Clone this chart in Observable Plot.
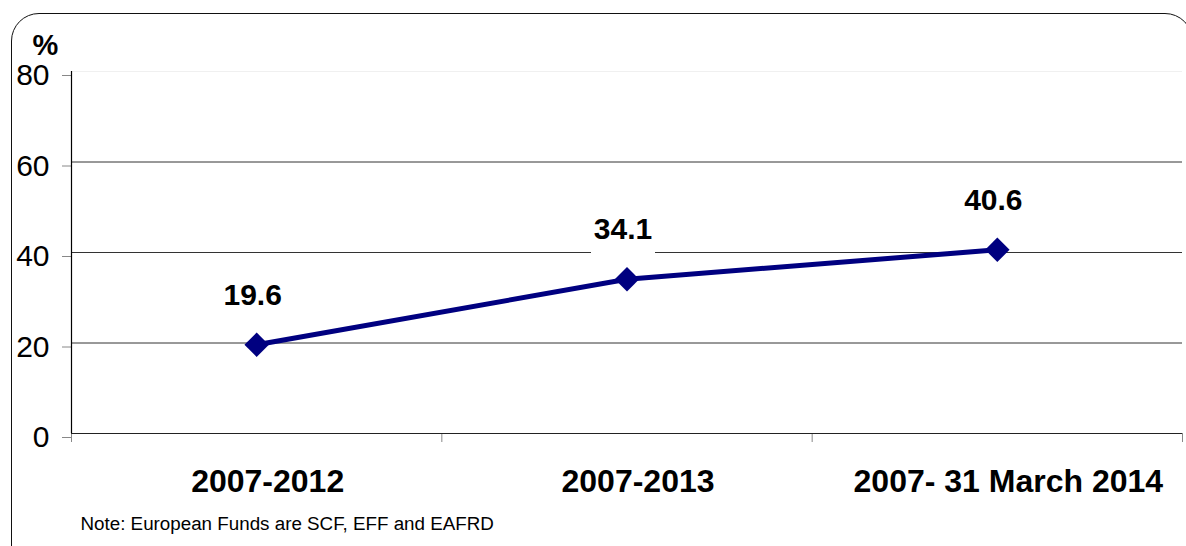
<!DOCTYPE html>
<html>
<head>
<meta charset="utf-8">
<script src="https://cdn.jsdelivr.net/npm/d3@7"></script>
<script src="https://cdn.jsdelivr.net/npm/@observablehq/plot@0.6"></script>
<style>
  html, body { margin: 0; padding: 0; background: #fff; }
  #wrap { position: relative; width: 1186px; height: 546px; overflow: hidden; font-family: "Liberation Sans", Arial, sans-serif; }
  #box { position: absolute; left: 11px; top: 13px; width: 1180px; height: 560px; border: 1.5px solid #111; border-radius: 28px; pointer-events: none; }
  #chart { position: absolute; left: 0; top: 0; }
</style>
</head>
<body>
<div id="wrap">
  <div id="chart"></div>
  <div id="box"></div>
</div>
<script>
// Cumulative absorption of European Funds, per reporting period (%)
const periods = ["2007-2012", "2007-2013", "2007- 31 March 2014"];
const rates = [19.6, 34.1, 40.6];
const yTicks = [0, 20, 40, 60, 80];
const note = "Note: European Funds are SCF, EFF and EAFRD";

const data = periods.map((p, i) => ({period: p, idx: i + 0.5, rate: rates[i]}));

// white background box drawn behind each value label
const labelBox = {
  draw(context) {
    context.rect(-32, -26, 64, 53);
  }
};

const chart = Plot.plot({
  width: 1186,
  height: 546,
  marginLeft: 71,
  marginRight: 4,
  marginTop: 71,
  marginBottom: 113,
  style: {fontFamily: "'Liberation Sans', Arial, sans-serif", background: "transparent", color: "#000"},
  x: {domain: [0, periods.length], axis: null},
  y: {domain: [0, 80], axis: null},
  marks: [
    Plot.ruleY([80], {stroke: "#f0f0f0", strokeWidth: 1}),
    Plot.ruleY([20, 40, 60], {stroke: "#333", strokeWidth: 1}),
    Plot.dot(data, {x: "idx", y: "rate", symbol: labelBox, fill: "#fff", stroke: null, dx: -4, dy: -48}),
    Plot.axisY({ticks: yTicks, tickSize: 9, tickPadding: 13, stroke: "#888", fontSize: 30, fill: "#000", dy: 4, label: null}),
    Plot.axisX({ticks: d3.range(periods.length + 1), tickFormat: () => "", tickSize: 9, stroke: "#888", label: null}),
    Plot.ruleY([0], {stroke: "#222", strokeWidth: 1.2}),
    Plot.ruleX([0], {stroke: "#000", strokeWidth: 1.2}),
    Plot.text(data, {x: "idx", text: "period", frameAnchor: "bottom", lineAnchor: "top", dx: 11, dy: 36, fontSize: 32, fontWeight: "bold", fill: "#000"}),
    Plot.line(data, {x: "idx", y: "rate", stroke: "#000080", strokeWidth: 5}),
    Plot.dot(data, {x: "idx", y: "rate", symbol: "diamond2", r: 11, fill: "#000080", stroke: null}),
    Plot.text(data, {x: "idx", y: "rate", text: d => d.rate.toFixed(1), lineAnchor: "bottom", dx: -4, dy: -40, fontSize: 30, fontWeight: "bold", fill: "#000"}),
    Plot.text(["%"], {frameAnchor: "top-left", textAnchor: "middle", lineAnchor: "bottom", dx: -26, dy: -17, fontSize: 29, fontWeight: "bold", fill: "#000"}),
    Plot.text([note], {frameAnchor: "bottom-left", textAnchor: "start", lineAnchor: "middle", dx: 9, dy: 90, fontSize: 18.8, fill: "#000"})
  ]
});

document.getElementById("chart").appendChild(chart);
</script>
</body>
</html>
